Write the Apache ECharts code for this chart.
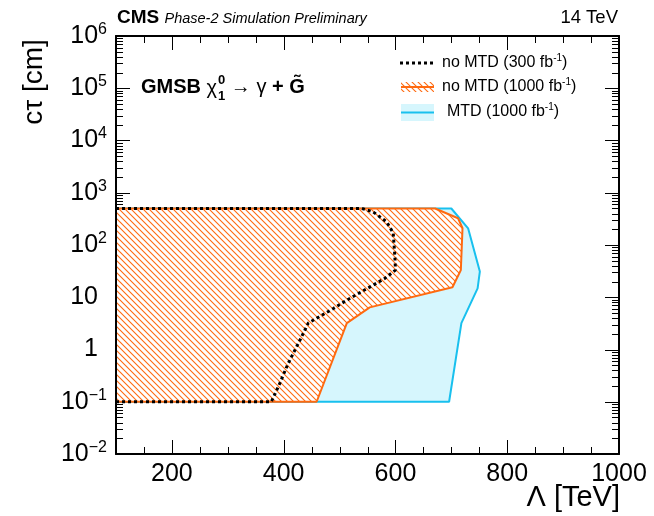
<!DOCTYPE html>
<html><head><meta charset="utf-8">
<script src="https://cdn.jsdelivr.net/npm/echarts@6/dist/echarts.min.js"></script>
<style>html,body{margin:0;padding:0;background:#fff}#c{width:654px;height:516px}#d{position:absolute;left:2px;top:470px;font:9px monospace;color:#c00;white-space:pre;max-width:130px;overflow:hidden}</style>
</head><body><div id="c"></div><div id="d"></div>
<script>
// ---- data ----
const lambdaNoMTD300 = [100, 540, 560, 584, 596, 599, 600, 581, 548, 513, 489, 444, 429, 408, 393, 378, 100];
const ctauNoMTD300   = [500, 500, 430, 280, 170, 60, 33, 23, 14.4, 8.8, 6.1, 3.2, 1.5, 0.54, 0.225, 0.1, 0.1];
const lambdaNoMTD1000 = [100, 671, 712, 720, 717, 702, 554, 513, 459, 100, 100];
const ctauNoMTD1000   = [500, 500, 325, 209, 33, 15.5, 6.4, 3.2, 0.1, 0.1, 500];
const lambdaMTD1000 = [100, 700, 730, 751, 747, 718, 696, 100, 100];
const ctauMTD1000   = [500, 500, 209, 31, 14.8, 3.2, 0.1, 0.1, 500];
const seriesNames = ['no MTD (300 fb', 'no MTD (1000 fb', 'MTD (1000 fb'];
const xTickLabels = [200, 400, 600, 800, 1000];
const xMinorTicks = [100, 150, 250, 300, 350, 450, 500, 550, 650, 700, 750, 850, 900, 950];
const yTickValues = [0.01, 0.1, 1, 10, 100, 1000, 1e4, 1e5, 1e6];
const yDecadeExps = [-2, -1, 0, 1, 2, 3, 4, 5];
const yMinorMult = [2, 3, 4, 5, 6, 7, 8, 9];

const FONT = 'Liberation Sans, Arial, Helvetica, sans-serif';
const ORANGE = '#ff6a10';
const CYAN = '#18c0ee';
const CYANFILL = '#d6f6fd';
const X_MIN = 100, X_MAX = 1000, Y_MIN = 0.01, Y_MAX = 1e6;

const errs = [];
window.onerror = function (m, s, l) { errs.push(String(m) + '@' + l); };

const yMinorValues = [];
yDecadeExps.forEach(e => yMinorMult.forEach(m => yMinorValues.push(m * Math.pow(10, e))));

function pairs(xs, ys) { return xs.map((x, i) => [x, ys[i]]); }

function hatchCanvas() {
  const c = document.createElement('canvas');
  c.width = 6; c.height = 6;
  const g = c.getContext('2d');
  g.strokeStyle = ORANGE; g.lineWidth = 1.1;
  g.beginPath();
  g.moveTo(-1, -1); g.lineTo(7, 7);
  g.moveTo(-1, 5); g.lineTo(1, 7);
  g.moveTo(5, -1); g.lineTo(7, 1);
  g.stroke();
  return c;
}
const hatch = hatchCanvas();

function polyRender(xs, ys, styles) {
  return function (params, api) {
    if (params.dataIndex !== 0) return;
    const pts = xs.map((x, i) => api.coord([x, ys[i]]));
    return {
      type: 'group',
      children: styles.map(s => ({ type: 'polygon', shape: { points: pts.map(p => p.slice()) }, style: Object.assign({}, s) }))
    };
  };
}

function yFmt(v) {
  const e = Math.round(Math.log10(v));
  if (e === 0) return '{c|1}';
  if (e === 1) return '{c|10}';
  return '{b|10}{s|' + (e < 0 ? '\u2212' + (-e) : e) + '}';
}
const yRich = {
  b: { fontSize: 25, fontFamily: FONT, color: '#000' },
  c: { fontSize: 25, fontFamily: FONT, color: '#000', padding: [0, 9, 0, 0] },
  s: { fontSize: 16, fontFamily: FONT, color: '#000', padding: [0, 0, 13, 0] }
};

const option = {
  backgroundColor: '#fff',
  animation: false,
  grid: { left: 116, right: 35, top: 36, bottom: 62, containLabel: false },
  xAxis: [
    { type: 'value', position: 'bottom', min: X_MIN, max: X_MAX, interval: 50, zlevel: 1,
      axisLine: { show: true, onZero: false, lineStyle: { color: '#000', width: 2 } },
      splitLine: { show: false }, axisTick: { show: false },
      axisLabel: { show: true, customValues: xTickLabels, formatter: v => String(v), fontSize: 25, fontFamily: FONT, color: '#000', margin: 8 } },
    { type: 'value', position: 'top', min: X_MIN, max: X_MAX, interval: 50, zlevel: 1,
      axisLine: { show: true, onZero: false, lineStyle: { color: '#000', width: 2 } },
      splitLine: { show: false }, axisTick: { show: false }, axisLabel: { show: false } }
  ],
  yAxis: [
    { type: 'log', logBase: 10, position: 'left', min: Y_MIN, max: Y_MAX, zlevel: 1,
      axisLine: { show: true, onZero: false, lineStyle: { color: '#000', width: 2 } },
      splitLine: { show: false }, axisTick: { show: false },
      axisLabel: { show: true, customValues: yTickValues, formatter: yFmt, rich: yRich, margin: 9 } },
    { type: 'log', logBase: 10, position: 'right', min: Y_MIN, max: Y_MAX, zlevel: 1,
      axisLine: { show: true, onZero: false, lineStyle: { color: '#000', width: 2 } },
      splitLine: { show: false }, axisTick: { show: false }, axisLabel: { show: false } }
  ],
  series: [
    { type: 'custom', name: seriesNames[2], z: 1, data: [[100, 1]], clip: true,
      renderItem: polyRender(lambdaMTD1000, ctauMTD1000, [{ fill: CYANFILL, stroke: null }]) },
    { type: 'line', name: seriesNames[2] + ' line', z: 2, showSymbol: false, symbol: 'none',
      data: pairs(lambdaMTD1000, ctauMTD1000), lineStyle: { color: CYAN, width: 2 } },
    { type: 'custom', name: seriesNames[1], z: 3, data: [[100, 1]], clip: true,
      renderItem: polyRender(lambdaNoMTD1000, ctauNoMTD1000, [
        { fill: '#ffffff', stroke: null },
        { fill: { image: hatch, repeat: 'repeat' }, stroke: null }
      ]) },
    { type: 'line', name: seriesNames[1] + ' line', z: 4, showSymbol: false, symbol: 'none',
      data: pairs(lambdaNoMTD1000, ctauNoMTD1000), lineStyle: { color: ORANGE, width: 2 } },
    { type: 'line', name: seriesNames[0], z: 5, showSymbol: false, symbol: 'none',
      data: pairs(lambdaNoMTD300, ctauNoMTD300),
      lineStyle: { color: '#000', width: 3, type: [3, 3] } }
  ],
  graphic: []
};

const meas = document.createElement('canvas').getContext('2d');
function tw(txt, font) { meas.font = font; return meas.measureText(txt).width; }

const legRich = {
  a: { fontSize: 16, fontFamily: FONT, color: '#000' },
  s: { fontSize: 10, fontFamily: FONT, color: '#000', padding: [0, 0, 9, 0] }
};
function legText(name) { return '{a|' + name + '}{s|-1}{a|)}'; }

const gx = 141, gy = 87;
const fBold = 'bold 20px ' + FONT, fReg = '20px ' + FONT, fSmall = 'bold 13px ' + FONT;
const w1 = tw('GMSB ', fBold);
const wChi = tw('\u03C7', fReg);
const wSup = tw('0', fSmall);
const w2 = tw(' \u2192 \u03B3 ', fReg);

const baseGraphic = [
  // header
  { type: 'text', x: 117, y: 18, style: { text: 'CMS', font: 'bold 19px ' + FONT, fill: '#000', textVerticalAlign: 'middle' } },
  { type: 'text', x: 117 + tw('CMS ', 'bold 19px ' + FONT), y: 19, style: { text: 'Phase-2 Simulation Preliminary', font: 'italic 14.5px ' + FONT, fill: '#000', textVerticalAlign: 'middle' } },
  { type: 'text', x: 618, y: 18, style: { text: '14 TeV', font: '18.5px ' + FONT, fill: '#000', textAlign: 'right', textVerticalAlign: 'middle' } },
  // axis titles
  { type: 'text', x: 34, y: 82, rotation: Math.PI / 2, style: { text: 'c\u03C4 [cm]', font: '28px ' + FONT, fill: '#000', textAlign: 'center', textVerticalAlign: 'middle' } },
  { type: 'text', x: 620, y: 498, style: { text: '\u039B [TeV]', font: '29px ' + FONT, fill: '#000', textAlign: 'right', textVerticalAlign: 'middle' } },
  // GMSB label
  { type: 'text', x: gx, y: gy, style: { text: 'GMSB', font: fBold, fill: '#000', textVerticalAlign: 'middle' } },
  { type: 'text', x: gx + w1, y: gy + 1, style: { text: '\u03C7', font: fReg, fill: '#000', textVerticalAlign: 'middle' } },
  { type: 'text', x: gx + w1 + wChi + 1, y: gy - 7, style: { text: '0', font: fSmall, fill: '#000', textVerticalAlign: 'middle' } },
  { type: 'text', x: gx + w1 + wChi + 1, y: gy + 9, style: { text: '1', font: fSmall, fill: '#000', textVerticalAlign: 'middle' } },
  { type: 'text', x: gx + w1 + wChi + wSup + 1, y: gy, style: { text: ' \u2192 \u03B3 ', font: fReg, fill: '#000', textVerticalAlign: 'middle' } },
  { type: 'text', x: gx + w1 + wChi + wSup + 1 + w2, y: gy, style: { text: '+ G\u0303', font: fBold, fill: '#000', textVerticalAlign: 'middle' } },
  // legend
  { type: 'line', shape: { x1: 400, y1: 63, x2: 433, y2: 63 }, style: { stroke: '#000', lineWidth: 3, lineDash: [3, 3] } },
  { type: 'text', x: 442, y: 63, style: { text: legText(seriesNames[0]), rich: legRich, textVerticalAlign: 'middle' } },
  { type: 'rect', shape: { x: 401, y: 82, width: 33, height: 10 }, style: { fill: { image: hatch, repeat: 'repeat' } } },
  { type: 'line', shape: { x1: 401, y1: 87, x2: 434, y2: 87 }, style: { stroke: ORANGE, lineWidth: 2 } },
  { type: 'text', x: 442, y: 87, style: { text: legText(seriesNames[1]), rich: legRich, textVerticalAlign: 'middle' } },
  { type: 'rect', shape: { x: 401, y: 104, width: 33, height: 17 }, style: { fill: CYANFILL } },
  { type: 'line', shape: { x1: 401, y1: 112.5, x2: 434, y2: 112.5 }, style: { stroke: CYAN, lineWidth: 2 } },
  { type: 'text', x: 447, y: 112, style: { text: legText(seriesNames[2]), rich: legRich, textVerticalAlign: 'middle' } }
];
option.graphic = baseGraphic;

const chart = echarts.init(document.getElementById('c'), null, { renderer: 'canvas' });
chart.setOption(option);

// ---- axis ticks on all four sides, positioned through the axes' own scales ----
let diag = '';
let probe = null;
try {
  const toPx = v => chart.convertToPixel({ xAxisIndex: 0, yAxisIndex: 0 }, v);
  const tickEls = [];
  const tline = (x1, y1, x2, y2) => tickEls.push({ type: 'line', silent: true,
    shape: { x1: x1, y1: y1, x2: x2, y2: y2 }, style: { stroke: '#000', lineWidth: 1 } });
  const xt = xTickLabels.map(v => [v, 14]).concat(xMinorTicks.map(v => [v, 7]));
  xt.forEach(function (it) {
    const b = toPx([it[0], Y_MIN]), t = toPx([it[0], Y_MAX]);
    const x = Math.round(b[0]) + 0.5;
    tline(x, b[1], x, b[1] - it[1]);
    tline(x, t[1], x, t[1] + it[1]);
  });
  const yt = yTickValues.map(v => [v, 14]).concat(yMinorValues.map(v => [v, 7]));
  yt.forEach(function (it) {
    const l = toPx([X_MIN, it[0]]), r = toPx([X_MAX, it[0]]);
    const y = Math.round(l[1]) + 0.5;
    tline(l[0], y, l[0] + it[1], y);
    tline(r[0], y, r[0] - it[1], y);
  });
  const p = toPx([X_MIN, 1e4]);
  probe = [Math.round(p[0]) + 8, Math.round(p[1])];
  chart.setOption({ graphic: baseGraphic.concat(tickEls) });
  diag += 'n=' + tickEls.length + ' p=' + JSON.stringify(probe) + '\n';
} catch (e) { diag += 'ERR ' + e.message + '\n'; }

setTimeout(function () {
  if (!probe) { document.getElementById('d').textContent = diag + errs.join('\n'); return; }
  let dark = false;
  document.querySelectorAll('#c canvas').forEach(function (cv) {
    try {
      const d = cv.getContext('2d').getImageData(probe[0], probe[1], 1, 1).data;
      if (d[3] > 100 && d[0] < 120) dark = true;
    } catch (e) {}
  });
  if (!dark) {
    const list = chart.getZr().storage.getDisplayList(true);
    const cnt = {};
    list.forEach(el => { const k = el.type + '/' + el.zlevel + '/' + el.z + (el.invisible ? 'i' : '') + (el.ignore ? 'g' : ''); cnt[k] = (cnt[k] || 0) + 1; });
    document.getElementById('d').textContent = diag + JSON.stringify(cnt).slice(0, 400) + '\n' + errs.join('\n');
  }
}, 300);
</script>
</body></html>
